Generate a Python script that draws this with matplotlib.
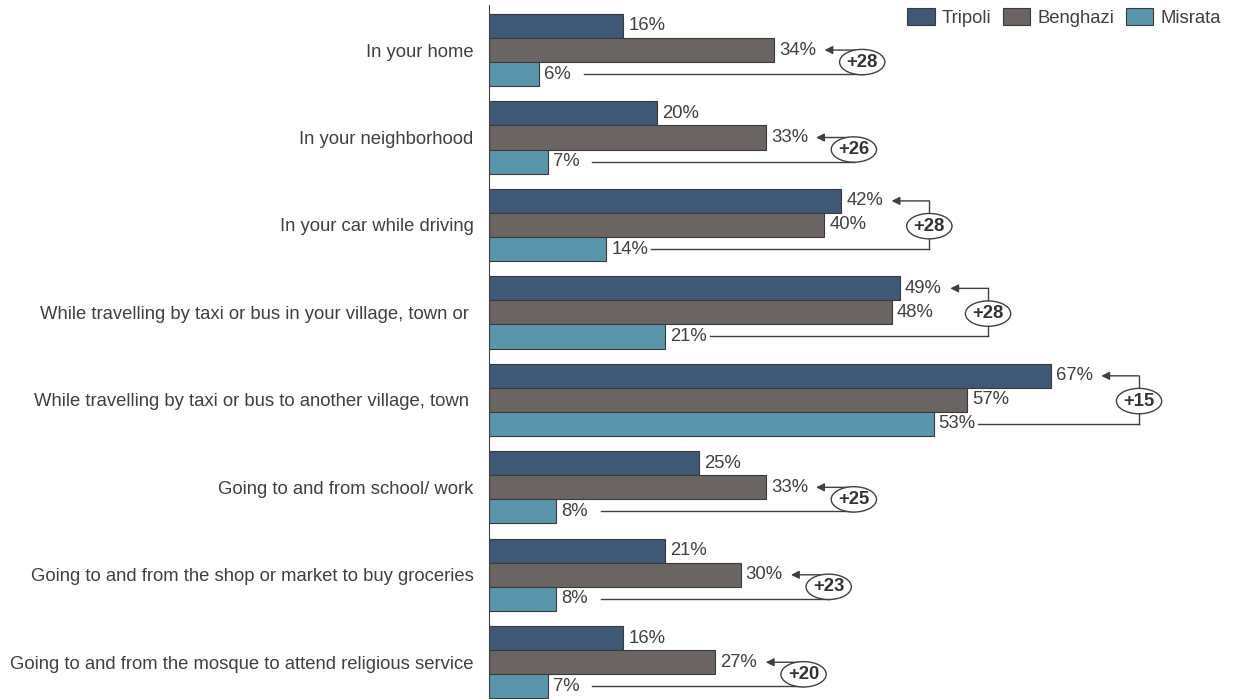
import matplotlib.pyplot as plt
from matplotlib.patches import Ellipse
import numpy as np

plt.rcParams['font.family'] = ['Liberation Sans', 'DejaVu Sans']

categories = ["In your home",
              "In your neighborhood",
              "In your car while driving",
              "While travelling by taxi or bus in your village, town or ",
              "While travelling by taxi or bus to another village, town ",
              "Going to and from school/ work",
              "Going to and from the shop or market to buy groceries",
              "Going to and from the mosque to attend religious service"]
tripoli = [16, 20, 42, 49, 67, 25, 21, 16]
benghazi = [34, 33, 40, 48, 57, 33, 30, 27]
misrata = [6, 7, 14, 21, 53, 8, 8, 7]
gap_labels = ["+28", "+26", "+28", "+28", "+15", "+25", "+23", "+20"]
series_names = ["Tripoli", "Benghazi", "Misrata"]
colors = ["#3e5875", "#6a6462", "#5b95ab"]

txt = "#404040"
fs = 13.3
fig = plt.figure(figsize=(12.38, 6.99), dpi=100)
ax = fig.add_axes([489/1238, 0, 749/1238, 694/699])

y = np.arange(len(categories))
h = 0.275
all_vals = [tripoli, benghazi, misrata]
for i, (vals, name, c) in enumerate(zip(all_vals, series_names, colors)):
    pos = y + (i - 1) * h
    ax.barh(pos, vals, height=h, color=c, edgecolor="#3a3a3a", linewidth=0.8, label=name)
    for p, v in zip(pos, vals):
        ax.text(v + 0.6, p, f"{v}%", va="center", ha="left", fontsize=fs, color=txt)

# callouts: biggest of Tripoli/Benghazi vs Misrata
for k in range(len(categories)):
    top = max(tripoli[k], benghazi[k])
    src = 0 if tripoli[k] >= benghazi[k] else 1
    ys = y[k] + (src - 1) * h
    ym = y[k] + h
    xl = top + 10.5
    ax.annotate("", xy=(top + 6.0, ys), xytext=(xl, ys),
                arrowprops=dict(arrowstyle="-|>", color="#404040", lw=1.0,
                                mutation_scale=12, shrinkA=0, shrinkB=0))
    ax.plot([xl, xl], [ys, ym], color="#404040", lw=1.0)
    ax.plot([misrata[k] + 5.3, xl], [ym, ym], color="#404040", lw=1.0)
    yc = (ys + ym) / 2 if src == 1 else y[k] + h * 0.05
    ax.add_patch(Ellipse((xl, yc), 5.4, 0.29, facecolor="white",
                         edgecolor="#404040", lw=1.0, zorder=5))
    ax.text(xl, yc, gap_labels[k], ha="center", va="center", fontsize=fs,
            fontweight="bold", color="#333333", zorder=6)

ax.set_xlim(0, 89.3)
ax.set_ylim(7.42, -0.515)
ax.set_yticks(y)
ax.set_yticklabels(categories, fontsize=fs, color=txt)
ax.tick_params(axis="y", length=0, pad=11)
ax.set_xticks([])
for s in ["top", "right", "bottom"]:
    ax.spines[s].set_visible(False)
ax.spines["left"].set_color("#404040")

ax.legend(loc="upper right", bbox_to_anchor=(1.0, 1.02), ncol=3, frameon=False,
          fontsize=fs, handlelength=1.5, handleheight=1.1, columnspacing=0.6,
          handletextpad=0.4, labelcolor=txt)

fig.savefig("out.png", dpi=100)
